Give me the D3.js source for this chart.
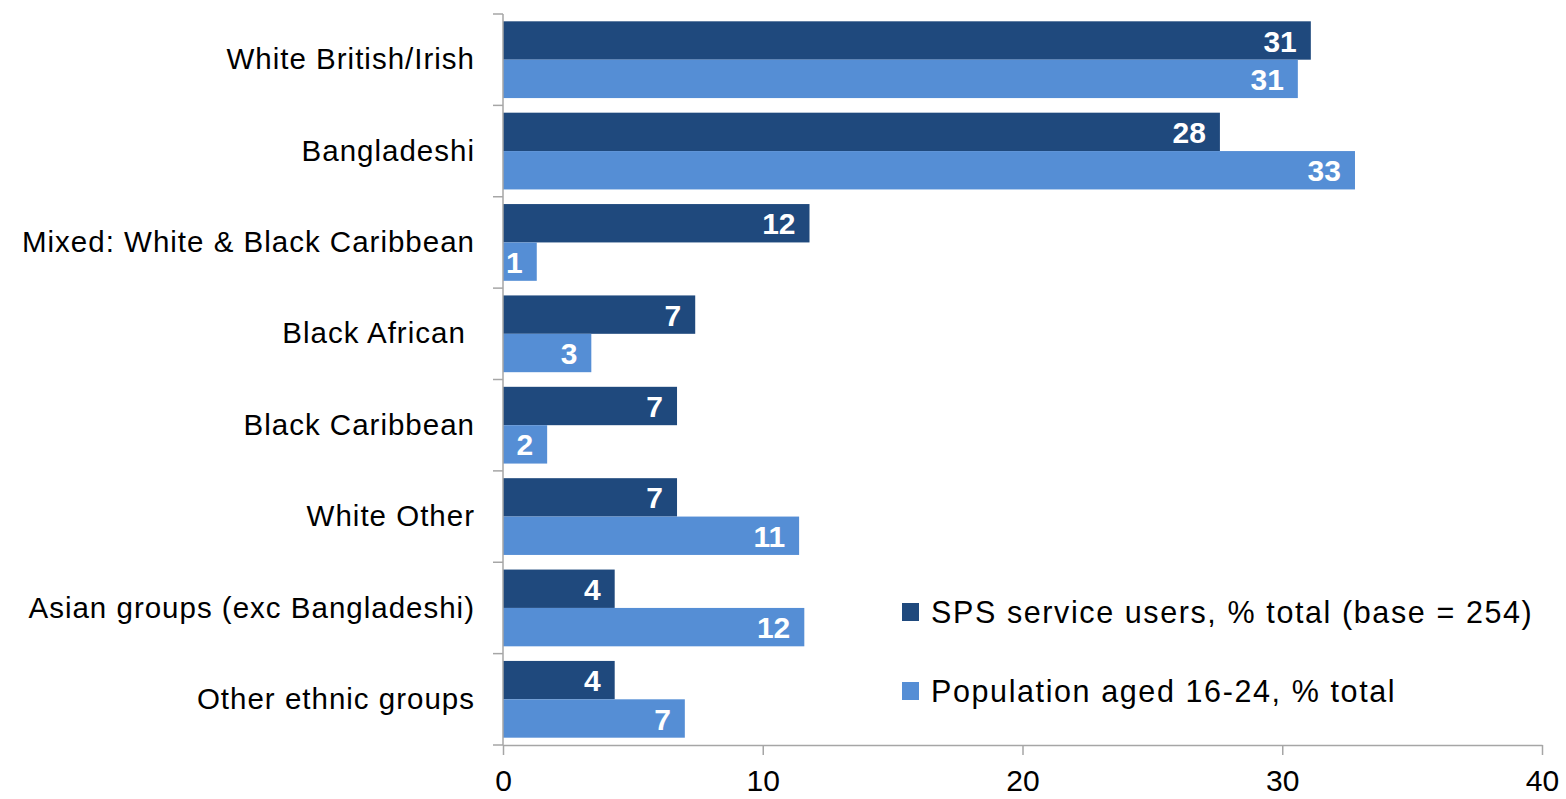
<!DOCTYPE html>
<html>
<head>
<meta charset="utf-8">
<script src="https://cdn.jsdelivr.net/npm/d3@7"></script>
<style>
  html, body { margin: 0; padding: 0; background: #fff; }
  svg { display: block; font-family: "Liberation Sans", Arial, sans-serif; }
  .cat { white-space: pre; }
</style>
</head>
<body>
<svg id="chart" width="1566" height="799"></svg>
<script>
// Ethnic group categories, top to bottom
const categories = [
  "White British/Irish",
  "Bangladeshi",
  "Mixed: White & Black Caribbean",
  "Black African ",
  "Black Caribbean",
  "White Other",
  "Asian groups (exc Bangladeshi)",
  "Other ethnic groups"
];
// SPS service users, % of total (base = 254)
const spsUsers = [31.1, 27.6, 11.8, 7.4, 6.7, 6.7, 4.3, 4.3];
// Population aged 16-24, % of total
const population = [30.6, 32.8, 1.3, 3.4, 1.7, 11.4, 11.6, 7.0];
const seriesNames = [
  "SPS service users, % total (base = 254)",
  "Population aged 16-24, % total"
];
const xTicks = [0, 10, 20, 30, 40];

const colors = ["#1F497D", "#558ED5"];
const axisColor = "#a6a6a6";

const W = 1566, H = 799;
const margin = { top: 14, right: 24, bottom: 54, left: 503 };
const svg = d3.select("#chart");

const x = d3.scaleLinear().domain([0, 40]).range([margin.left, W - margin.right]);
const y = d3.scaleBand().domain(categories).range([margin.top, H - margin.bottom]).paddingInner(0.16).paddingOuter(0.08);
const sub = d3.scaleBand().domain([0, 1]).range([0, y.bandwidth()]);

const rows = categories.map((c, i) => ({ cat: c, vals: [spsUsers[i], population[i]] }));

// Bars with value labels inside the bar end
const g = svg.append("g");
rows.forEach(r => {
  r.vals.forEach((v, s) => {
    g.append("rect")
      .attr("x", x(0))
      .attr("y", y(r.cat) + sub(s))
      .attr("width", x(v) - x(0))
      .attr("height", sub.bandwidth())
      .attr("fill", colors[s]);
    g.append("text")
      .attr("x", x(v) - 14)
      .attr("y", y(r.cat) + sub(s) + sub.bandwidth() / 2)
      .attr("dy", "0.37em")
      .attr("text-anchor", "end")
      .attr("fill", "#fff")
      .attr("font-weight", "bold")
      .attr("font-size", 30)
      .text(d3.format(".0f")(v));
  });
});

// X axis
const xAxis = svg.append("g")
  .attr("transform", `translate(0,${H - margin.bottom})`)
  .call(d3.axisBottom(x).tickValues(xTicks).tickSize(10).tickPadding(15).tickSizeOuter(0));
xAxis.select(".domain").attr("stroke", axisColor).attr("stroke-width", 1.5);
xAxis.selectAll(".tick line").attr("stroke", axisColor).attr("stroke-width", 1.5);
xAxis.selectAll(".tick text").attr("font-size", 30).attr("fill", "#000")
  .attr("font-family", "Liberation Sans, Arial, sans-serif");

// Y axis line with category boundary ticks
const yTop = margin.top, yBot = H - margin.bottom;
svg.append("line")
  .attr("x1", x(0)).attr("x2", x(0)).attr("y1", yTop).attr("y2", yBot)
  .attr("stroke", axisColor).attr("stroke-width", 1.5);
const step = (yBot - yTop) / categories.length;
d3.range(categories.length + 1).forEach(i => {
  svg.append("line")
    .attr("x1", x(0) - 10).attr("x2", x(0))
    .attr("y1", yTop + i * step).attr("y2", yTop + i * step)
    .attr("stroke", axisColor).attr("stroke-width", 1.5);
});

// Category labels
svg.append("g").selectAll("text").data(categories).join("text")
  .attr("class", "cat")
  .attr("x", x(0) - 28)
  .attr("y", d => yTop + categories.indexOf(d) * step + step / 2 - 1)
  .attr("dy", "0.36em")
  .attr("text-anchor", "end")
  .attr("font-size", 29.5)
  .attr("letter-spacing", 1.0)
  .attr("fill", "#000")
  .text(d => d);

// Legend
const legend = svg.append("g").attr("transform", "translate(902,612)");
seriesNames.forEach((name, i) => {
  const row = legend.append("g").attr("transform", `translate(0,${i * 79})`);
  row.append("rect").attr("x", 0).attr("y", -9).attr("width", 17).attr("height", 18).attr("fill", colors[i]);
  row.append("text").attr("x", 29).attr("y", 0).attr("dy", "0.36em")
    .attr("font-size", 30.5).attr("letter-spacing", 1.6).attr("fill", "#000").text(name);
});
</script>
</body>
</html>
